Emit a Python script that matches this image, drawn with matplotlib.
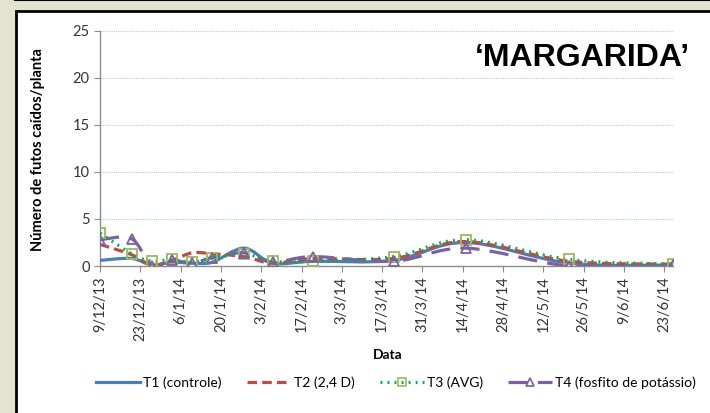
import matplotlib
matplotlib.use("Agg")
import matplotlib.pyplot as plt
import matplotlib.dates as mdates
from matplotlib.path import Path
from matplotlib.patches import PathPatch, Rectangle
from matplotlib.lines import Line2D
import numpy as np
import pandas as pd

# data
dates = ['9/12/13', '20/12/13', '27/12/13', '3/1/14', '10/1/14', '17/1/14', '28/1/14',
         '7/2/14', '21/2/14', '21/3/14', '15/4/14', '21/5/14', '26/6/14']
t1 = [0.6, 0.8, 0.1, 0.4, 0.3, 0.4, 1.9, 0.3, 0.5, 0.6, 2.5, 0.3, 0.1]
t2 = [2.3, 1.2, 0.1, 0.6, 1.4, 1.3, 1.0, 0.3, 0.8, 0.8, 2.6, 0.5, 0.2]
t3 = [3.5, 1.3, 0.5, 0.7, 0.4, 0.8, 1.3, 0.5, 0.5, 1.0, 2.8, 0.7, 0.2]
t4 = [2.8, 2.9, 0.0, 0.6, 0.3, 0.9, 1.4, 0.4, 1.0, 0.5, 1.9, 0.0, 0.1]
tick_labels = ['9/12/13', '23/12/13', '6/1/14', '20/1/14', '3/2/14', '17/2/14', '3/3/14',
               '17/3/14', '31/3/14', '14/4/14', '28/4/14', '12/5/14', '26/5/14', '9/6/14',
               '23/6/14']
labels = ['T1 (controle)', 'T2 (2,4 D)', 'T3 (AVG)', 'T4 (fosfito de potássio)']

x = mdates.date2num(pd.to_datetime(dates, dayfirst=True, format='%d/%m/%y'))
xt = mdates.date2num(pd.to_datetime(tick_labels, dayfirst=True, format='%d/%m/%y'))


def smooth_path(xs, ys):
    # Excel-like smoothed line: cubic Bezier through the points
    pts = np.column_stack([xs, ys])
    n = len(pts)
    verts = [pts[0]]
    codes = [Path.MOVETO]
    for i in range(n - 1):
        p0 = pts[i - 1] if i > 0 else pts[i]
        p1, p2 = pts[i], pts[i + 1]
        p3 = pts[i + 2] if i + 2 < n else pts[i + 1]
        verts += [p1 + (p2 - p0) / 6, p2 - (p3 - p1) / 6, p2]
        codes += [Path.CURVE4] * 3
    return Path(verts, codes)


fig = plt.figure(figsize=(7.1, 4.13), dpi=100)
fig.patch.set_facecolor('#e3e4cf')
fig.patches.append(Rectangle((16 / 710, -0.02), 1.0, (413 - 10.5) / 413 + 0.02,
                             transform=fig.transFigure, facecolor='white',
                             edgecolor='black', lw=2, zorder=-1))
fig.add_artist(Line2D([15 / 710, 1], [0.999, 0.999], color='black', lw=1.5,
                      transform=fig.transFigure))

ax = fig.add_axes([100 / 710, (413 - 266) / 413, 573 / 710, 235 / 413])
ax.set_facecolor('none')

c1, c2, c3, c4 = '#4a7ebb', '#be4b48', '#00b050', '#7d60a0'
ax.add_patch(PathPatch(smooth_path(x, t1), fill=False, color=c1, lw=2.3, zorder=3))
ax.add_patch(PathPatch(smooth_path(x, t2), fill=False, color=c2, lw=2.3,
                       linestyle=(0, (3, 1.6)), zorder=3))
ax.add_patch(PathPatch(smooth_path(x, t3), fill=False, color=c3, lw=2.3,
                       linestyle=(0, (0.6, 1.6)), zorder=4))
ax.add_patch(PathPatch(smooth_path(x, t4), fill=False, color=c4, lw=2.3,
                       linestyle=(0, (6, 3.2)), zorder=3))
ax.plot(x, t3, linestyle='none', marker='s', ms=7, mfc='none', mec='#9bbb59', mew=1.3, zorder=5)
ax.plot(x, t4, linestyle='none', marker='^', ms=7, mfc='none', mec=c4, mew=1.3, zorder=5)

ax.set_xlim(x[0], x[-1])
ax.set_ylim(0, 25)
ax.set_yticks([0, 5, 10, 15, 20, 25])
ax.set_xticks(xt)
ax.set_xticklabels(tick_labels, rotation=90)
ax.grid(axis='y', color='#b3c9e8', linestyle=(0, (1, 1)), lw=0.8)
ax.set_axisbelow(True)
for s in ['top', 'right']:
    ax.spines[s].set_visible(False)
for s in ['left', 'bottom']:
    ax.spines[s].set_color('#8c8c8c')
    ax.spines[s].set_linewidth(1.0)
ax.tick_params(axis='both', colors='#8c8c8c', labelcolor='#333333', length=4,
               labelsize=10.5)
for lab in ax.get_xticklabels() + ax.get_yticklabels():
    lab.set_family('Lato')

fig.text(38 / 710, 1 - 150 / 413, 'Número de futos caídos/planta', rotation=90,
         ha='center', va='center', fontsize=10.5, fontweight='bold', family='Lato')
fig.text(388 / 710, 1 - 355 / 413, 'Data', ha='center', va='center',
         fontsize=10, fontweight='bold', family='Lato')
fig.text(690 / 710, 1 - 58 / 413, '\u2018MARGARIDA\u2019', ha='right', va='center',
         fontsize=23, fontweight='bold', family='Liberation Sans')

handles = [
    Line2D([], [], color=c1, lw=2.3),
    Line2D([], [], color=c2, lw=2.3, linestyle=(0, (3, 1.6))),
    Line2D([], [], color=c3, lw=2.3, linestyle=(0, (0.6, 1.6)), marker='s', ms=6,
           mfc='none', mec='#9bbb59', mew=1.2),
    Line2D([], [], color=c4, lw=2.3, linestyle=(0, (6, 3.2)), marker='^', ms=6,
           mfc='none', mec=c4, mew=1.2),
]
fig.legend(handles, labels, loc='center', bbox_to_anchor=(396 / 710, 1 - 383 / 413),
           ncol=4, frameon=False, prop={'family': 'Lato', 'size': 10},
           handlelength=3.2, handletextpad=0.2, columnspacing=1.8)

fig.savefig('out.png', dpi=100, facecolor=fig.get_facecolor())
